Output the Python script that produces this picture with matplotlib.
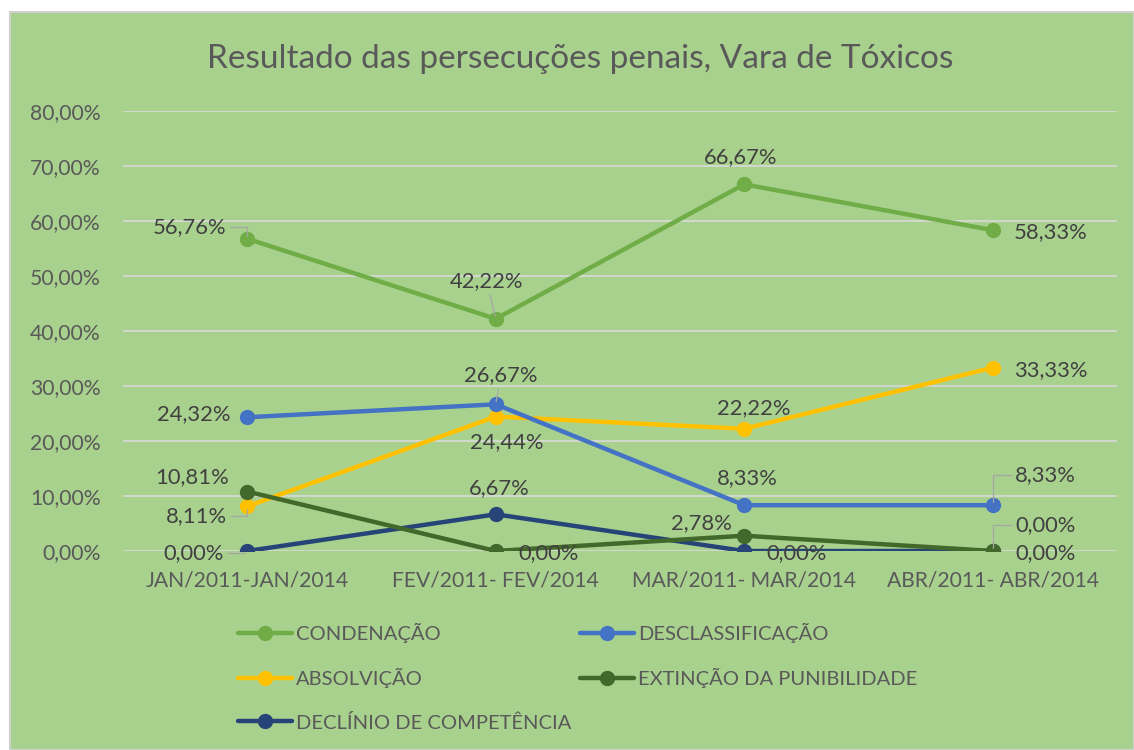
import matplotlib
matplotlib.use("Agg")
import matplotlib.pyplot as plt
from matplotlib.patches import Rectangle

plt.rcParams['font.family'] = ['Lato', 'DejaVu Sans']

# Dados do gráfico
periodos = ["JAN/2011-JAN/2014", "FEV/2011- FEV/2014", "MAR/2011- MAR/2014", "ABR/2011- ABR/2014"]
condenacao = [56.76, 42.22, 66.67, 58.33]
desclassificacao = [24.32, 26.67, 8.33, 8.33]
absolvicao = [8.11, 24.44, 22.22, 33.33]
extincao = [10.81, 0.00, 2.78, 0.00]
declinio = [0.00, 6.67, 0.00, 0.00]
yticks = [0, 10, 20, 30, 40, 50, 60, 70, 80]

cinza = "#595959"
fundo = "#A9D18E"


def fmt(v):
    return f"{v:.2f}".replace(".", ",") + "%"


def main() -> None:
    fig = plt.figure(figsize=(11.34, 7.5), dpi=100)
    fig.patch.set_facecolor("white")
    # painel verde com borda
    fig.patches.append(Rectangle((10 / 1134, 0), 1 - 10 / 1134, (750 - 12) / 750,
                                 transform=fig.transFigure, facecolor=fundo,
                                 edgecolor="#D0D0D0", linewidth=1.5, zorder=-10))

    ax = fig.add_axes([123 / 1134, 1 - 551 / 750, (1117 - 123) / 1134, (551 - 111) / 750])
    ax.set_facecolor("none")

    x = list(range(len(periodos)))
    # (nome, valores, cor, deslocamentos dos rótulos em pixels, linha guia)
    # linha guia: None, "reta" ou "cotovelo"
    series = [
        ("CONDENAÇÃO", condenacao, "#70AD47",
         [(-58, 12, "cotovelo"), (-9, 38, "reta"), (-4, 27, None), (58, -2, None)]),
        ("ABSOLVIÇÃO", absolvicao, "#FFC000",
         [(-51, -10, "cotovelo"), (11, -26, None), (10, 21, None), (58, -2, None)]),
        ("DECLÍNIO DE COMPETÊNCIA", declinio, "#264478",
         [(-54, -2, "cotovelo"), (4, 26, None), (52, -2, None), (53, -2, None)]),
        ("DESCLASSIFICAÇÃO", desclassificacao, "#4472C4",
         [(-54, 3, None), (5, 29, "reta"), (3, 27, None), (53, 30, "cotovelo")]),
        ("EXTINÇÃO DA PUNIBILIDADE", extincao, "#43682B",
         [(-55, 14, None), (53, -2, None), (-43, 13, None), (53, 26, "cotovelo")]),
    ]

    for nome, vals, cor, offs in series:
        ax.plot(x, vals, color=cor, linewidth=3.2, marker="o", markersize=10,
                label=nome, solid_capstyle="round", zorder=3)
        for xi, v, (dx, dy, guia) in zip(x, vals, offs):
            props = None
            if guia == "reta":
                props = dict(arrowstyle="-", color="#A6A6A6", lw=0.9,
                             shrinkA=1, shrinkB=2)
            elif guia == "cotovelo":
                props = dict(arrowstyle="-", color="#A6A6A6", lw=0.9,
                             shrinkA=1, shrinkB=2,
                             connectionstyle="angle,angleA=0,angleB=90,rad=0")
            ax.annotate(fmt(v), (xi, v), xytext=(dx, dy), textcoords="offset pixels",
                        ha="center", va="center", fontsize=15.8, color="#404040",
                        arrowprops=props, zorder=5)

    ax.set_xlim(-0.5, 3.5)
    ax.set_ylim(0, 80)
    ax.set_yticks(yticks)
    ax.set_yticklabels([fmt(t) for t in yticks])
    ax.set_xticks(x)
    ax.set_xticklabels(periodos)
    ax.tick_params(axis="both", length=0, colors=cinza, labelsize=15.2)
    ax.tick_params(axis="y", pad=16)
    ax.tick_params(axis="x", pad=14)
    ax.grid(axis="y", color="#D9D9D9", linewidth=1.2, zorder=1)
    for s in ax.spines.values():
        s.set_visible(False)

    fig.text(580 / 1134, 1 - 59 / 750, "Resultado das persecuções penais, Vara de Tóxicos",
             ha="center", va="center", fontsize=24, color=cinza)

    leg = fig.legend(loc="upper left", bbox_to_anchor=(238 / 1134, 1 - 623 / 750),
                     ncol=2, frameon=False, fontsize=14.5, handlelength=2.7,
                     handletextpad=0.2, columnspacing=0.4, labelspacing=1.25,
                     borderaxespad=0, borderpad=0)
    for t in leg.get_texts():
        t.set_color(cinza)

    fig.savefig("out.png", dpi=100)


if __name__ == '__main__':
    main()
